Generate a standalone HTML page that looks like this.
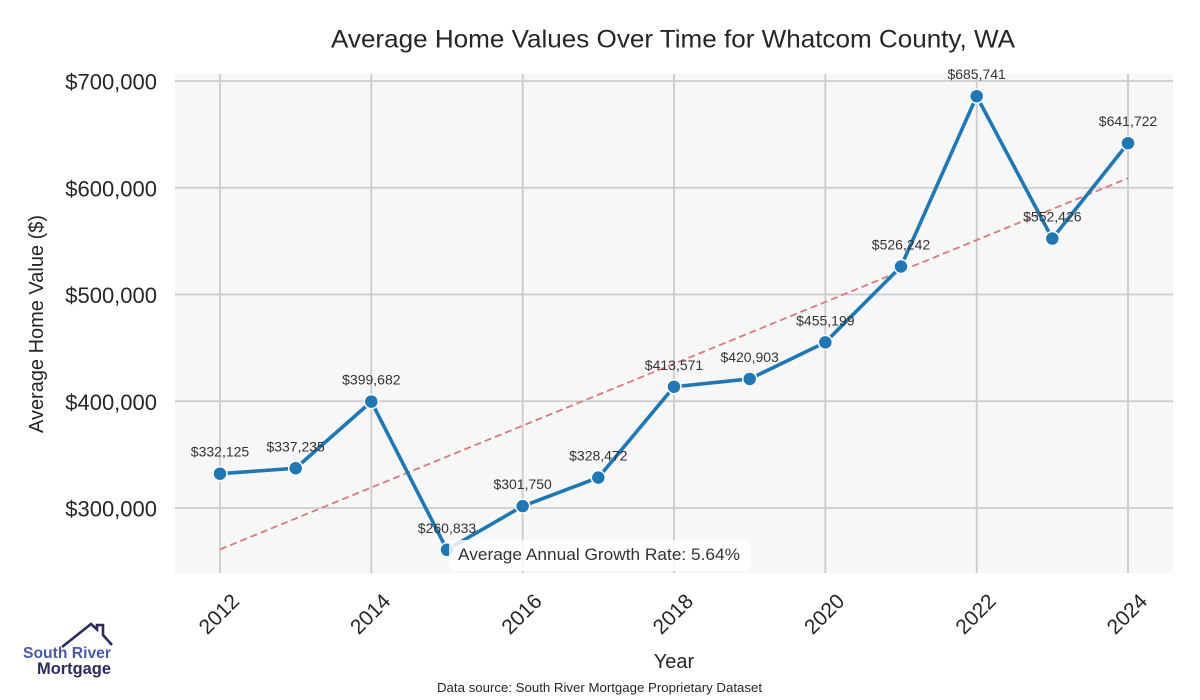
<!DOCTYPE html>
<html><head><meta charset="utf-8"><style>
html,body{margin:0;padding:0;background:#fff;}
svg{display:block;}
text{font-family:"Liberation Sans","DejaVu Sans",sans-serif;}
</style></head><body>
<svg width="1200" height="700" viewBox="0 0 1200 700" xmlns="http://www.w3.org/2000/svg">
<rect x="0" y="0" width="1200" height="700" fill="#ffffff"/>
<!-- plot bg -->
<rect x="175" y="74" width="998" height="499" fill="#f7f7f7"/>
<!-- grid -->
<g stroke="#cccccc" stroke-width="1.8">
<line x1="175" x2="1173" y1="81" y2="81"/>
<line x1="175" x2="1173" y1="187.75" y2="187.75"/>
<line x1="175" x2="1173" y1="294.5" y2="294.5"/>
<line x1="175" x2="1173" y1="401.25" y2="401.25"/>
<line x1="175" x2="1173" y1="508" y2="508"/>
<line x1="220" x2="220" y1="74" y2="573"/>
<line x1="371.33" x2="371.33" y1="74" y2="573"/>
<line x1="522.67" x2="522.67" y1="74" y2="573"/>
<line x1="674" x2="674" y1="74" y2="573"/>
<line x1="825.33" x2="825.33" y1="74" y2="573"/>
<line x1="976.67" x2="976.67" y1="74" y2="573"/>
<line x1="1128" x2="1128" y1="74" y2="573"/>
</g>
<!-- trend -->
<line x1="220" y1="549.4" x2="1128" y2="178.2" stroke="#d97a7c" stroke-width="1.8" stroke-dasharray="7,4"/>
<!-- series -->
<polyline fill="none" stroke="#1f77b4" stroke-width="3.6" stroke-linejoin="round" points="220,473.7 295.67,468.25 371.33,401.59 447,549.81 522.67,506.13 598.33,477.61 674,386.76 749.67,378.94 825.33,342.32 901,266.49 976.67,96.22 1052.33,238.54 1128,143.21"/>
<g fill="#1f77b4" stroke="#ffffff" stroke-width="1.5">
<circle cx="220" cy="473.7" r="7"/>
<circle cx="295.67" cy="468.25" r="7"/>
<circle cx="371.33" cy="401.59" r="7"/>
<circle cx="447" cy="549.81" r="7"/>
<circle cx="522.67" cy="506.13" r="7"/>
<circle cx="598.33" cy="477.61" r="7"/>
<circle cx="674" cy="386.76" r="7"/>
<circle cx="749.67" cy="378.94" r="7"/>
<circle cx="825.33" cy="342.32" r="7"/>
<circle cx="901" cy="266.49" r="7"/>
<circle cx="976.67" cy="96.22" r="7"/>
<circle cx="1052.33" cy="238.54" r="7"/>
<circle cx="1128" cy="143.21" r="7"/>
</g>
<!-- data labels -->
<g font-size="14" fill="#333333" text-anchor="middle">
<text x="220" y="456.7">$332,125</text>
<text x="295.67" y="451.25">$337,235</text>
<text x="371.33" y="384.59">$399,682</text>
<text x="447" y="532.81">$260,833</text>
<text x="522.67" y="489.13">$301,750</text>
<text x="598.33" y="460.61">$328,472</text>
<text x="674" y="369.76">$413,571</text>
<text x="749.67" y="361.94">$420,903</text>
<text x="825.33" y="325.32">$455,199</text>
<text x="901" y="249.49">$526,242</text>
<text x="976.67" y="79.22">$685,741</text>
<text x="1052.33" y="221.54">$552,426</text>
<text x="1128" y="126.21">$641,722</text>
</g>
<!-- annotation -->
<rect x="449" y="540" width="302" height="31" rx="6" ry="6" fill="#ffffff" fill-opacity="0.82"/>
<text x="458" y="560" font-size="17" fill="#333333" textLength="282" lengthAdjust="spacingAndGlyphs">Average Annual Growth Rate: 5.64%</text>
<!-- y ticks -->
<g font-size="22" fill="#262626" text-anchor="end">
<text x="157" y="89.5">$700,000</text>
<text x="157" y="196.25">$600,000</text>
<text x="157" y="303">$500,000</text>
<text x="157" y="409.75">$400,000</text>
<text x="157" y="516.5">$300,000</text>
</g>
<!-- x ticks -->
<g font-size="21" fill="#262626" text-anchor="middle">
<text transform="translate(219,614) rotate(-45)" dy="7">2012</text>
<text transform="translate(370.33,614) rotate(-45)" dy="7">2014</text>
<text transform="translate(521.67,614) rotate(-45)" dy="7">2016</text>
<text transform="translate(673,614) rotate(-45)" dy="7">2018</text>
<text transform="translate(824.33,614) rotate(-45)" dy="7">2020</text>
<text transform="translate(975.67,614) rotate(-45)" dy="7">2022</text>
<text transform="translate(1127,614) rotate(-45)" dy="7">2024</text>
</g>
<!-- axis labels -->
<text x="674" y="668" font-size="20" fill="#262626" text-anchor="middle">Year</text>
<text transform="translate(43,324) rotate(-90)" font-size="20" fill="#262626" text-anchor="middle" textLength="218" lengthAdjust="spacingAndGlyphs">Average Home Value ($)</text>
<!-- title -->
<text x="673" y="47.5" font-size="25" fill="#262626" text-anchor="middle" textLength="684" lengthAdjust="spacingAndGlyphs">Average Home Values Over Time for Whatcom County, WA</text>
<!-- source -->
<text x="599.5" y="692" font-size="13" fill="#262626" text-anchor="middle" textLength="325" lengthAdjust="spacingAndGlyphs">Data source: South River Mortgage Proprietary Dataset</text>
<!-- logo -->
<path d="M62,647 L91,624 L97,629.5 L97,625 L103,625 L103,635 L112,645" fill="none" stroke="#2b2d5c" stroke-width="2.6" stroke-linejoin="miter"/>
<text x="23" y="658" font-size="15.5" font-weight="bold" fill="#4a5aa8" textLength="88" lengthAdjust="spacingAndGlyphs">South River</text>
<text x="37" y="674" font-size="16.5" font-weight="bold" fill="#2b2d5c" textLength="74" lengthAdjust="spacingAndGlyphs">Mortgage</text>
</svg>
</body></html>
